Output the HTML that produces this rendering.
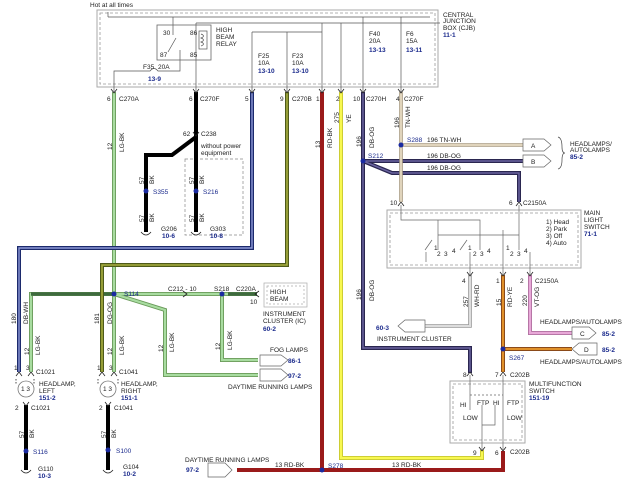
<!DOCTYPE html>
<html><head><meta charset="utf-8"><style>
html,body{margin:0;padding:0;background:#fff}
svg{display:block}
text{font-family:"Liberation Sans",sans-serif;font-size:6.5px;fill:#222}
.b{fill:#1a2a8c;font-weight:bold}
.s{fill:#1a2a8c}
</style></head><body>
<svg width="640" height="480" viewBox="0 0 640 480" xmlns="http://www.w3.org/2000/svg">
<rect width="640" height="480" fill="#fff"/>
<text x="90" y="7">Hot at all times</text>
<!-- CJB -->
<rect x="97" y="10" width="341" height="77" fill="none" stroke="#aaa" stroke-width="1"/>
<rect x="100" y="13" width="335" height="71" fill="none" stroke="#999" stroke-width="0.8" stroke-dasharray="3,2"/>
<g fill="none" stroke="#555" stroke-width="0.7">
<line x1="108" y1="12" x2="108" y2="17"/>
<line x1="108" y1="17" x2="430" y2="17"/>
<line x1="173" y1="17" x2="173" y2="35"/>
<line x1="196" y1="23" x2="196" y2="92"/>
<line x1="196" y1="23" x2="440" y2="23"/>
<line x1="252" y1="32" x2="322" y2="32"/>
<line x1="252" y1="32" x2="252" y2="92"/>
<line x1="287" y1="32" x2="287" y2="92"/>
<line x1="322" y1="23" x2="322" y2="92"/>
<line x1="341" y1="23" x2="341" y2="92"/>
<line x1="363" y1="17" x2="363" y2="92"/>
<line x1="401" y1="17" x2="401" y2="92"/>
<path d="M114 92 V71 H150 Q154 66 158 71 H180 V50"/>
<line x1="168" y1="52" x2="176" y2="38"/>
<rect x="199" y="31" width="8" height="18"/>
<path d="M201 34 Q206 36 201 38 Q206 40 201 42 Q206 44 201 46"/>
</g>
<rect x="157" y="25" width="54" height="35" fill="none" stroke="#666" stroke-width="0.8"/>
<text x="163" y="35">30</text><text x="190" y="35">86</text><text x="160" y="57">87</text><text x="190" y="57">85</text>
<text x="216" y="32">HIGH</text><text x="216" y="39">BEAM</text><text x="216" y="46">RELAY</text>
<text x="143" y="69">F35</text><text x="158" y="69">20A</text><text x="148" y="81" class="b">13-9</text>
<text x="258" y="58">F25</text><text x="258" y="65">10A</text><text x="258" y="73" class="b">13-10</text>
<text x="292" y="58">F23</text><text x="292" y="65">10A</text><text x="292" y="73" class="b">13-10</text>
<text x="369" y="36">F40</text><text x="369" y="43">20A</text><text x="369" y="52" class="b">13-13</text>
<text x="406" y="36">F6</text><text x="406" y="43">15A</text><text x="406" y="52" class="b">13-11</text>
<text x="443" y="17">CENTRAL</text><text x="443" y="23">JUNCTION</text><text x="443" y="30">BOX (CJB)</text><text x="443" y="37" class="b">11-1</text>
<!-- Main light switch box -->
<rect x="387" y="210" width="194" height="58" fill="none" stroke="#aaa" stroke-width="1"/>
<rect x="390" y="213" width="188" height="52" fill="none" stroke="#999" stroke-width="0.8" stroke-dasharray="3,2"/>
<g fill="none" stroke="#666" stroke-width="0.7">
<path d="M401 205 V220 H480 V250"/><line x1="438" y1="220" x2="438" y2="250"/>
<path d="M438 235 H519"/><line x1="519" y1="205" x2="519" y2="250"/>
<path d="M425 250 L432 240"/><path d="M460 250 L467 240"/>
<line x1="426" y1="252" x2="426" y2="262"/><line x1="470" y1="252" x2="470" y2="275"/>
<line x1="503" y1="230" x2="503" y2="275"/><line x1="530" y1="252" x2="530" y2="275"/>
</g>
<text x="434" y="250">1</text><text x="437" y="256">2</text><text x="444" y="256">3</text><text x="452" y="253">4</text>
<text x="468" y="250">1</text><text x="473" y="256">2</text><text x="480" y="256">3</text><text x="487" y="253">4</text>
<text x="506" y="250">1</text><text x="510" y="256">2</text><text x="517" y="256">3</text><text x="524" y="253">4</text>
<text x="546" y="224">1) Head</text><text x="546" y="231">2) Park</text><text x="546" y="238">3) Off</text><text x="546" y="245">4) Auto</text>
<text x="584" y="215">MAIN</text><text x="584" y="222">LIGHT</text><text x="584" y="229">SWITCH</text><text x="584" y="236" class="b">71-1</text>
<!-- Multifunction switch -->
<rect x="450" y="381" width="75" height="62" fill="none" stroke="#aaa" stroke-width="1"/>
<rect x="453" y="384" width="69" height="56" fill="none" stroke="#999" stroke-width="0.8" stroke-dasharray="3,2"/>
<g fill="none" stroke="#666" stroke-width="0.7"><line x1="470" y1="375" x2="470" y2="410"/><line x1="503" y1="375" x2="503" y2="450"/><line x1="482" y1="405" x2="482" y2="450"/><path d="M482 425 H495 V405"/><line x1="470" y1="395" x2="503" y2="395" stroke-dasharray="2,2"/></g>
<text x="460" y="407">HI</text><text x="477" y="405">FTP</text><text x="493" y="405">HI</text><text x="507" y="405">FTP</text>
<text x="463" y="420">LOW</text><text x="507" y="420">LOW</text>
<text x="529" y="386">MULTIFUNCTION</text><text x="529" y="393">SWITCH</text><text x="529" y="400" class="b">151-19</text>
<!-- dashed box without power -->
<rect x="185" y="159" width="58" height="76" fill="none" stroke="#888" stroke-width="0.7" stroke-dasharray="3,2"/>
<text x="201" y="148">without power</text><text x="201" y="155">equipment</text>
<!-- wires -->
<g fill="none" stroke-linejoin="miter">
<g stroke="#6a9a5a" stroke-width="4">
<path d="M114 92 V372"/><path d="M31 372 V294 H257"/><path d="M114 294 L165 310 V375 H258"/><path d="M222 294 V360 H258"/>
</g>
<g stroke="#a8dca0" stroke-width="2.2">
<path d="M114 92 V372"/><path d="M31 372 V294 H257"/><path d="M114 294 L165 310 V375 H258"/><path d="M222 294 V360 H258"/>
</g>
<path d="M31 294 H114" stroke="#3e6a3e" stroke-width="3.5"/>
<path d="M228 294 H257" stroke="#3e6a3e" stroke-width="3.5"/>
<path d="M252 92 V248 H19 V372" stroke="#1c2a6c" stroke-width="4"/>
<path d="M252 92 V248 H19 V372" stroke="#8f9ad8" stroke-width="1.4"/>
<path d="M287 92 V265 H102 V372" stroke="#4e5a1a" stroke-width="4"/>
<path d="M287 92 V265 H102 V372" stroke="#a8b040" stroke-width="1.6"/>
<path d="M196 92 V232 M196 137 L172 155 H146 V232" stroke="#000" stroke-width="4"/>
<path d="M26 405 V470 M108 405 V470" stroke="#000" stroke-width="4"/>
<path d="M322 92 V470 H503 V451 M237 470 H322" stroke="#9a1a1a" stroke-width="4"/>
<path d="M341 92 V458 H482 V450" stroke="#c8c830" stroke-width="4"/>
<path d="M341 92 V458 H482 V450" stroke="#f8f850" stroke-width="2.2"/>
<path d="M363 92 V348 H470 V373 M363 161 H523 M363 161 L392 173 H519 V202" stroke="#2a2650" stroke-width="4"/>
<path d="M363 92 V348 H470 V373 M363 161 H523 M363 161 L392 173 H519 V202" stroke="#6a64a0" stroke-width="1.5"/>
<path d="M401 92 V202 M401 145 H523" stroke="#a89a80" stroke-width="3.6"/>
<path d="M401 92 V202 M401 145 H523" stroke="#e0d4bc" stroke-width="2"/>
<path d="M470 275 V326 H425" stroke="#999" stroke-width="3.6"/>
<path d="M470 275 V326 H425" stroke="#ddd" stroke-width="2"/>
<path d="M503 275 V372 M503 349 H572" stroke="#8a4a1a" stroke-width="4"/>
<path d="M503 275 V372 M503 349 H572" stroke="#e0902a" stroke-width="2"/>
<path d="M530 275 V333 H572" stroke="#b070a0" stroke-width="4"/>
<path d="M530 275 V333 H572" stroke="#e8a8d8" stroke-width="2.2"/>
</g>
<!-- connector arrows -->
<g fill="none" stroke="#222" stroke-width="0.8">
<path d="M111 89 L114 93 L117 89 M193 89 L196 93 L199 89 M249 89 L252 93 L255 89 M284 89 L287 93 L290 89 M319 89 L322 93 L325 89 M338 89 L341 93 L344 89 M360 89 L363 93 L366 89 M398 89 L401 93 L404 89"/>
<path d="M193 132 L196 136 L199 132"/>
<path d="M398 206 L401 202 L404 206 M516 206 L519 202 L522 206"/>
<path d="M467 272 L470 276 L473 272 M500 272 L503 276 L506 272 M527 272 L530 276 L533 272"/>
<path d="M467 376 L470 372 L473 376 M500 376 L503 372 L506 376 M479 447 L482 451 L485 447 M500 447 L503 451 L506 447"/>
<path d="M16 376 L19 372 L22 376 M28 376 L31 372 L34 376 M99 376 L102 372 L105 376 M111 376 L114 372 L117 376"/>
<path d="M23 402 L26 406 L29 402 M105 402 L108 406 L111 402"/>
<path d="M183 291 L187 294 L183 297 M259 291 L255 294 L259 297"/>
<path d="M141 232 Q146 238 151 232 M191 232 Q196 238 201 232 M21 470 Q26 476 31 470 M103 470 Q108 476 113 470"/>
<path d="M16 379 V384 M34 379 V384 M98 379 V384 M118 379 V384" stroke-dasharray="1.5,1.5"/>
</g>
<!-- headlamps -->
<circle cx="26" cy="389" r="8" fill="#fff" stroke="#777" stroke-width="0.8"/>
<circle cx="108" cy="389" r="8" fill="#fff" stroke="#777" stroke-width="0.8"/>
<text x="21" y="391" font-size="5">1 3</text><text x="103" y="391" font-size="5">1 3</text>
<!-- splices -->
<g fill="#1a2aa0">
<circle cx="146" cy="191" r="2.5"/><circle cx="196" cy="191" r="2.5"/><circle cx="114" cy="294" r="2.5"/><circle cx="222" cy="294" r="2.5"/>
<circle cx="26" cy="451" r="2.5"/><circle cx="108" cy="450" r="2.5"/><circle cx="322" cy="470" r="2.5"/>
<circle cx="401" cy="145" r="2.5"/><circle cx="363" cy="161" r="2.5"/><circle cx="503" cy="349" r="2.5"/>
</g>
<!-- terminal arrows -->
<g fill="#fff" stroke="#666" stroke-width="0.7">
<path d="M523 139 H544 L551 145 L544 151 H523 Z"/><path d="M523 155 H544 L551 161 L544 167 H523 Z"/>
<path d="M260 355 H281 L288 360 L281 366 H260 Z"/>
<path d="M260 369 H281 L288 375 L281 381 H260 Z"/>
<path d="M208 463 H225 L232 470 L225 477 H208 Z"/>
<path d="M398 326 L405 320 H425 V332 H405 Z"/>
<path d="M572 327 H589 L596 333 L589 339 H572 Z"/>
<path d="M572 349 L579 343 H597 V355 H579 Z"/>
<rect x="264" y="283" width="43" height="24" stroke="#aaa"/>
<rect x="267" y="286" width="37" height="18" stroke="#aaa" stroke-dasharray="2,2"/>
</g>
<path d="M558 137 Q562 138 562 147 Q562 153 565 153 Q562 153 562 160 Q562 168 558 169" fill="none" stroke="#444" stroke-width="0.7"/>
<!-- labels -->
<text x="531" y="148">A</text><text x="531" y="164">B</text><text x="580" y="336">C</text><text x="584" y="352">D</text>
<text x="570" y="146">HEADLAMPS/</text><text x="570" y="152">AUTOLAMPS</text><text x="570" y="159" class="b">85-2</text>
<text x="540" y="324">HEADLAMPS/AUTOLAMPS</text><text x="602" y="336" class="b">85-2</text>
<text x="602" y="352" class="b">85-2</text><text x="540" y="364">HEADLAMPS/AUTOLAMPS</text>
<text x="376" y="330" class="b">60-3</text><text x="377" y="341">INSTRUMENT CLUSTER</text>
<text x="270" y="294">HIGH</text><text x="270" y="301">BEAM</text>
<text x="263" y="316">INSTRUMENT</text><text x="263" y="323">CLUSTER (IC)</text><text x="263" y="331" class="b">60-2</text>
<text x="270" y="352">FOG LAMPS</text><text x="288" y="363" class="b">86-1</text>
<text x="288" y="378" class="b">97-2</text><text x="228" y="389">DAYTIME RUNNING LAMPS</text>
<text x="185" y="462">DAYTIME RUNNING LAMPS</text><text x="186" y="472" class="b">97-2</text>
<text x="275" y="467">13  RD-BK</text><text x="392" y="467">13  RD-BK</text>
<text x="328" y="468" class="s">S278</text>
<text x="427" y="142">196  TN-WH</text><text x="427" y="158">196  DB-OG</text><text x="427" y="170">196  DB-OG</text>
<text x="407" y="142" class="s">S288</text><text x="368" y="158" class="s">S212</text>
<text x="390" y="205">10</text><text x="509" y="205">6</text><text x="523" y="205">C2150A</text>
<text x="462" y="283">4</text><text x="496" y="283">1</text><text x="520" y="283">2</text><text x="535" y="283">C2150A</text>
<text x="509" y="360" class="s">S267</text>
<text x="463" y="377">8</text><text x="495" y="377">7</text><text x="510" y="377">C202B</text>
<text x="473" y="455">9</text><text x="495" y="455">6</text><text x="510" y="454">C202B</text>
<text x="107" y="101">6</text><text x="119" y="101">C270A</text>
<text x="189" y="101">6</text><text x="200" y="101">C270F</text>
<text x="245" y="101">5</text><text x="280" y="101">9</text><text x="292" y="101">C270B</text>
<text x="316" y="101">1</text><text x="336" y="101">2</text><text x="353" y="101">10</text><text x="366" y="101">C270H</text>
<text x="396" y="101">4</text><text x="404" y="101">C270F</text>
<text x="183" y="136">62</text><text x="201" y="136">C238</text>
<text x="153" y="194" class="s">S355</text><text x="203" y="194" class="s">S216</text>
<text x="161" y="231">G206</text><text x="162" y="238" class="b">10-6</text>
<text x="210" y="231">G303</text><text x="210" y="238" class="b">10-8</text>
<text x="124" y="296" class="s">S114</text><text x="168" y="291">C212 - 10</text><text x="214" y="291">S218</text><text x="236" y="291">C220A</text><text x="250" y="304">10</text>
<text x="36" y="374">C1021</text><text x="119" y="374">C1041</text>
<text x="14" y="370" font-size="5">1</text><text x="26" y="370" font-size="5">3</text><text x="97" y="370" font-size="5">1</text><text x="109" y="370" font-size="5">3</text>
<text x="39" y="386">HEADLAMP,</text><text x="39" y="393">LEFT</text><text x="39" y="400" class="b">151-2</text>
<text x="121" y="386">HEADLAMP,</text><text x="121" y="393">RIGHT</text><text x="121" y="400" class="b">151-1</text>
<text x="15" y="410">2</text><text x="31" y="410">C1021</text><text x="99" y="410">2</text><text x="114" y="410">C1041</text>
<text x="33" y="454" class="s">S116</text><text x="116" y="453" class="s">S100</text>
<text x="38" y="471">G110</text><text x="38" y="478" class="b">10-3</text>
<text x="123" y="469">G104</text><text x="123" y="476" class="b">10-2</text>
<g font-size="6.5">
<text transform="translate(112,150) rotate(-90)">12</text><text transform="translate(124,152) rotate(-90)">LG-BK</text>
<text transform="translate(144,184) rotate(-90)">57</text><text transform="translate(154,184) rotate(-90)">BK</text>
<text transform="translate(194,184) rotate(-90)">57</text><text transform="translate(204,184) rotate(-90)">BK</text>
<text transform="translate(144,222) rotate(-90)">57</text><text transform="translate(154,222) rotate(-90)">BK</text>
<text transform="translate(194,222) rotate(-90)">57</text><text transform="translate(204,222) rotate(-90)">BK</text>
<text transform="translate(320,148) rotate(-90)">13</text><text transform="translate(332,148) rotate(-90)">RD-BK</text>
<text transform="translate(339,123) rotate(-90)">275</text><text transform="translate(351,123) rotate(-90)">YE</text>
<text transform="translate(361,147) rotate(-90)">196</text><text transform="translate(374,148) rotate(-90)">DB-OG</text>
<text transform="translate(399,128) rotate(-90)">196</text><text transform="translate(410,128) rotate(-90)">TN-WH</text>
<text transform="translate(361,300) rotate(-90)">196</text><text transform="translate(374,301) rotate(-90)">DB-OG</text>
<text transform="translate(468,307) rotate(-90)">257</text><text transform="translate(479,307) rotate(-90)">WH-RD</text>
<text transform="translate(501,306) rotate(-90)">15</text><text transform="translate(512,307) rotate(-90)">RD-YE</text>
<text transform="translate(527,306) rotate(-90)">220</text><text transform="translate(539,307) rotate(-90)">VT-OG</text>
<text transform="translate(16,324) rotate(-90)">180</text><text transform="translate(28,324) rotate(-90)">DB-WH</text>
<text transform="translate(29,355) rotate(-90)">12</text><text transform="translate(40,355) rotate(-90)">LG-BK</text>
<text transform="translate(99,324) rotate(-90)">181</text><text transform="translate(112,324) rotate(-90)">DG-OG</text>
<text transform="translate(112,355) rotate(-90)">12</text><text transform="translate(124,355) rotate(-90)">LG-BK</text>
<text transform="translate(163,352) rotate(-90)">12</text><text transform="translate(174,352) rotate(-90)">LG-BK</text>
<text transform="translate(220,350) rotate(-90)">12</text><text transform="translate(232,350) rotate(-90)">LG-BK</text>
<text transform="translate(24,438) rotate(-90)">57</text><text transform="translate(34,438) rotate(-90)">BK</text>
<text transform="translate(106,438) rotate(-90)">57</text><text transform="translate(116,438) rotate(-90)">BK</text>
</g>
</svg>
</body></html>
